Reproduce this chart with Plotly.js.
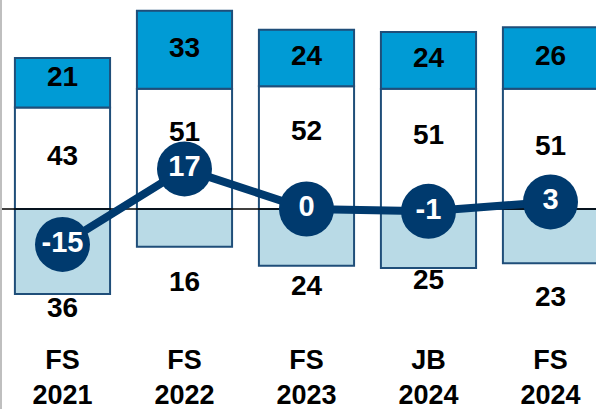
<!DOCTYPE html>
<html>
<head>
<meta charset="utf-8">
<script src="https://cdn.plot.ly/plotly-3.0.1.min.js"></script>
<style>html,body{margin:0;padding:0;background:#fff;}#chart{width:596px;height:409px;}</style>
</head>
<body>
<div id="chart"></div>
<script>
// ---- data ----
const categories = ['FS<br>2021', 'FS<br>2022', 'FS<br>2023', 'JB<br>2024', 'FS<br>2024'];
const improved  = [21, 33, 24, 24, 26];   // blue top segment
const unchanged = [43, 51, 52, 51, 51];   // white segment
const worsened  = [36, 16, 24, 25, 23];   // light-blue segment below zero
const balance   = [-15, 17, 0, -1, 3];    // net balance line

// ---- styles ----
const navy = '#003A6E';
const blue = '#009BD5';
const lightBlue = '#B9DAE6';
const border = '#1F4E79';
const fontFam = 'Liberation Sans, Arial, sans-serif';
const yRange = [-53.39, 86.44];
const xRange = [-0.504, 4.373];
const plotH = 330;
const pxPerUnit = plotH / (yRange[1] - yRange[0]);
const topShiftPx = [4, 0, 0, 0, 0];     // upward label offsets
const midShiftPx = [0, 15, 15, 12, 1];
const lowShiftPx = [16, 37, 22, 14, 36]; // below bar bottom

const barW = 0.78;
const labelFont = {family: fontFam, size: 28, color: '#000', weight: 700};
const tickFont = {family: fontFam, size: 27, color: '#000', weight: 700};
const idx = categories.map((c, i) => i);

const traces = [
  {type: 'bar', x: categories, y: unchanged, width: barW,
   marker: {color: '#FFFFFF', line: {color: border, width: 2}}, hoverinfo: 'skip'},
  {type: 'bar', x: categories, y: improved, width: barW,
   marker: {color: blue, line: {color: border, width: 2}}, hoverinfo: 'skip'},
  {type: 'bar', x: categories, y: worsened.map(v => -v), width: barW,
   marker: {color: lightBlue, line: {color: border, width: 2}}, hoverinfo: 'skip'},
  {type: 'scatter', mode: 'text', x: categories,
   y: improved.map((v, i) => unchanged[i] + v / 2 + topShiftPx[i] / pxPerUnit),
   text: improved.map(String), textposition: 'middle center', textfont: labelFont, hoverinfo: 'skip'},
  {type: 'scatter', mode: 'text', x: categories,
   y: unchanged.map((v, i) => v / 2 + midShiftPx[i] / pxPerUnit),
   text: unchanged.map(String), textposition: 'middle center', textfont: labelFont, hoverinfo: 'skip'},
  {type: 'scatter', mode: 'text', x: categories,
   y: worsened.map((v, i) => -v - lowShiftPx[i] / pxPerUnit),
   text: worsened.map(String), textposition: 'middle center', textfont: labelFont, hoverinfo: 'skip'},
  // zero reference line across the whole plot, above the bars
  {type: 'scatter', mode: 'lines', xaxis: 'x2', yaxis: 'y', x: xRange, y: [0, 0],
   line: {color: '#000000', width: 1.5}, hoverinfo: 'skip'},
  {type: 'scatter', mode: 'lines+markers+text', xaxis: 'x2', yaxis: 'y', x: idx, y: balance,
   line: {color: navy, width: 8},
   marker: {color: navy, size: 55},
   text: balance.map(String), textposition: 'middle center',
   textfont: {family: fontFam, size: 29, color: '#FFFFFF', weight: 700}, hoverinfo: 'skip'}
];

const layout = {
  width: 596, height: 409,
  margin: {l: 1, r: 0, t: 5, b: 74},
  paper_bgcolor: '#FFFFFF', plot_bgcolor: '#FFFFFF',
  barmode: 'relative',
  showlegend: false,
  xaxis: {type: 'category', range: xRange, showgrid: false, zeroline: false,
          showline: false, ticks: '', tickfont: tickFont, ticklabelstandoff: 6, fixedrange: true},
  xaxis2: {type: 'linear', overlaying: 'x', range: xRange, visible: false, fixedrange: true},
  yaxis: {range: yRange, showgrid: false, zeroline: false,
          showticklabels: false, ticks: '', showline: false, fixedrange: true},
  shapes: [
    {type: 'line', xref: 'paper', yref: 'paper', x0: 0, x1: 0, y0: -0.3, y1: 1.1,
     line: {color: '#BFBFBF', width: 2}}
  ]
};

Plotly.newPlot('chart', traces, layout, {displayModeBar: false, staticPlot: true});
</script>
</body>
</html>
